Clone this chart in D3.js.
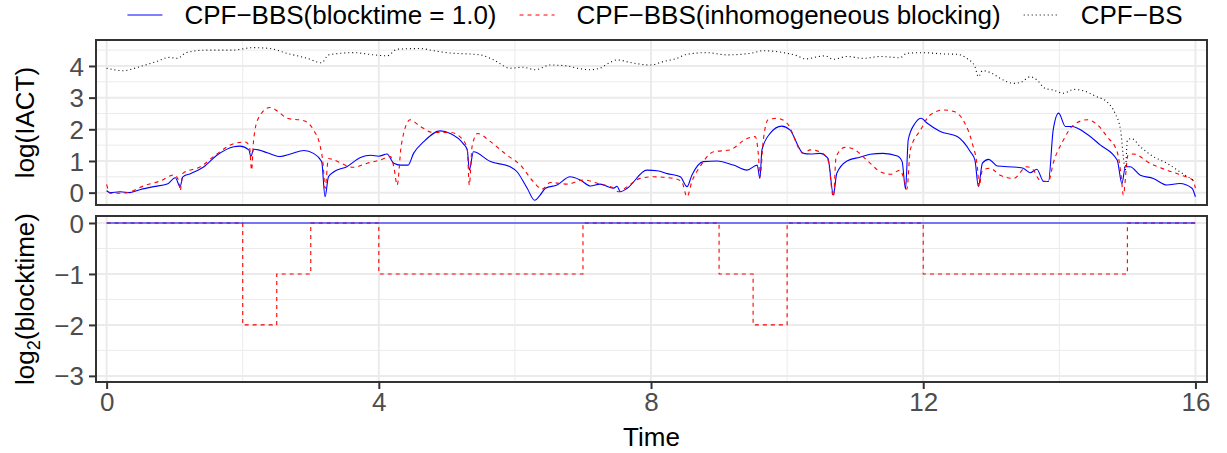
<!DOCTYPE html>
<html>
<head>
<meta charset="utf-8">
<script src="https://cdn.jsdelivr.net/npm/d3@7"></script>
<style>
  body { margin: 0; background: #fff; }
  text { font-family: "Liberation Sans", Arial, Helvetica, sans-serif; }
</style>
</head>
<body>
<div id="chart"></div>
<script>
// ---- data ----
var seriesNames = ["CPF\u2212BBS(blocktime = 1.0)", "CPF\u2212BBS(inhomogeneous blocking)", "CPF\u2212BS"];

// log(IACT) over time, blocktime = 1.0
var iactBlock1 = [[0,0.06],[0.05,0.0],[0.2,0.03],[0.34,0.0],[0.5,0.1],[0.69,0.19],[0.89,0.27],[1.01,0.47],[1.08,0.19],[1.12,0.5],[1.23,0.6],[1.43,0.82],[1.62,1.18],[1.87,1.45],[1.96,1.47],[2.09,1.35],[2.12,1.14],[2.16,1.37],[2.23,1.35],[2.36,1.26],[2.55,1.14],[2.7,1.22],[2.9,1.33],[3.04,1.24],[3.16,0.98],[3.21,-0.13],[3.26,0.5],[3.34,0.66],[3.53,0.82],[3.73,1.11],[3.88,1.18],[4.0,1.15],[4.12,1.22],[4.22,0.93],[4.32,0.87],[4.43,0.87],[4.51,1.24],[4.66,1.61],[4.9,1.95],[5.05,1.87],[5.24,1.55],[5.3,1.35],[5.33,0.71],[5.39,1.29],[5.64,0.98],[5.93,0.82],[6.03,0.66],[6.18,0.14],[6.29,-0.24],[6.37,-0.08],[6.45,0.14],[6.62,0.24],[6.81,0.5],[6.96,0.4],[7.11,0.21],[7.25,0.27],[7.45,0.14],[7.5,0.2],[7.55,0.03],[7.65,0.14],[7.94,0.71],[8.09,0.69],[8.24,0.6],[8.43,0.5],[8.53,0.19],[8.6,0.55],[8.77,0.98],[8.97,1.0],[9.21,0.87],[9.41,0.71],[9.56,0.87],[9.6,0.45],[9.63,1.35],[9.75,1.87],[9.92,2.1],[10.04,1.98],[10.24,1.24],[10.34,1.22],[10.48,1.24],[10.6,1.08],[10.68,-0.07],[10.73,0.61],[10.88,1.0],[11.07,1.12],[11.22,1.21],[11.41,1.24],[11.62,1.16],[11.69,0.98],[11.74,0.11],[11.78,1.67],[11.88,2.19],[11.97,2.35],[12.06,2.19],[12.25,1.93],[12.5,1.77],[12.69,1.3],[12.76,1.03],[12.81,0.19],[12.87,0.93],[12.96,1.05],[13.09,0.84],[13.38,0.8],[13.47,0.77],[13.57,0.63],[13.67,0.74],[13.77,0.35],[13.84,0.35],[13.91,1.98],[13.99,2.51],[14.09,2.09],[14.19,2.09],[14.35,1.93],[14.6,1.51],[14.85,1.03],[14.92,0.29],[14.97,0.82],[15.04,0.82],[15.19,0.55],[15.38,0.45],[15.58,0.24],[15.77,0.29],[15.95,0.14],[16.0,-0.13]];

// log(IACT) over time, inhomogeneous blocking
var iactInhom = [[0,0.26],[0.05,-0.02],[0.2,-0.02],[0.34,0.02],[0.54,0.21],[0.79,0.37],[0.99,0.56],[1.06,0.37],[1.08,0.06],[1.12,0.61],[1.38,0.82],[1.62,1.22],[1.87,1.55],[2.04,1.6],[2.1,1.45],[2.13,0.71],[2.16,1.66],[2.23,2.35],[2.4,2.69],[2.55,2.51],[2.65,2.35],[2.9,2.27],[3.04,1.98],[3.14,1.45],[3.18,0.93],[3.21,0.14],[3.26,1.08],[3.34,1.03],[3.63,0.8],[3.83,0.93],[4.02,1.03],[4.17,1.14],[4.22,0.82],[4.27,0.24],[4.33,1.5],[4.46,2.3],[4.61,2.09],[4.8,1.9],[5.05,1.9],[5.24,1.66],[5.3,1.35],[5.33,0.24],[5.37,1.45],[5.45,1.87],[5.64,1.61],[5.88,1.19],[6.08,0.87],[6.27,0.35],[6.4,0.11],[6.52,0.32],[6.77,0.27],[7.01,0.4],[7.25,0.27],[7.45,0.14],[7.52,0.03],[7.65,0.19],[7.84,0.45],[8.04,0.5],[8.33,0.45],[8.45,0.35],[8.53,-0.13],[8.6,0.35],[8.72,0.82],[8.92,1.29],[9.16,1.35],[9.41,1.71],[9.53,1.77],[9.58,1.14],[9.6,0.5],[9.65,1.66],[9.72,2.3],[9.85,2.35],[10.0,2.19],[10.24,1.24],[10.34,1.35],[10.48,1.29],[10.6,1.03],[10.68,-0.13],[10.72,1.14],[10.85,1.43],[10.98,1.37],[11.17,1.03],[11.37,0.66],[11.52,0.58],[11.66,0.71],[11.72,0.4],[11.76,0.11],[11.81,1.35],[11.96,1.98],[12.1,2.45],[12.3,2.61],[12.45,2.56],[12.6,2.24],[12.72,1.56],[12.8,0.71],[12.82,0.19],[12.87,0.71],[12.98,0.77],[13.13,0.55],[13.33,0.45],[13.52,0.82],[13.62,0.71],[13.71,0.4],[13.84,0.35],[13.91,0.93],[14.06,1.66],[14.21,2.14],[14.41,2.3],[14.56,2.14],[14.7,1.77],[14.85,1.29],[14.91,0.5],[14.94,-0.07],[15.01,1.19],[15.09,1.22],[15.33,0.93],[15.58,0.71],[15.82,0.53],[15.96,0.4],[16.0,0.14]];

// log(IACT) over time, CPF-BS
var iactBS = [[0,3.93],[0.24,3.85],[0.49,3.98],[0.73,4.14],[0.92,4.27],[1.04,4.24],[1.17,4.42],[1.46,4.5],[1.85,4.5],[2.16,4.58],[2.4,4.55],[2.65,4.4],[2.95,4.24],[3.16,4.1],[3.26,4.35],[3.63,4.42],[3.93,4.35],[4.12,4.32],[4.27,4.53],[4.61,4.55],[4.81,4.48],[5.0,4.42],[5.49,4.35],[5.69,4.19],[5.93,3.93],[6.12,3.96],[6.3,3.88],[6.52,4.03],[6.77,4.0],[6.91,3.93],[7.11,3.88],[7.25,3.93],[7.38,4.09],[7.5,4.19],[7.74,4.09],[7.99,4.03],[8.18,4.14],[8.38,4.24],[8.53,4.37],[8.82,4.42],[9.11,4.35],[9.46,4.4],[9.65,4.48],[9.95,4.42],[10.15,4.32],[10.27,4.22],[10.44,4.29],[10.56,4.32],[10.68,4.21],[10.88,4.3],[11.12,4.24],[11.37,4.3],[11.66,4.26],[11.76,4.4],[12.0,4.42],[12.3,4.38],[12.5,4.37],[12.64,4.24],[12.76,3.98],[12.81,3.66],[12.87,3.85],[13.01,3.77],[13.13,3.61],[13.33,3.45],[13.45,3.5],[13.57,3.66],[13.67,3.56],[13.79,3.29],[13.91,3.24],[14.06,3.14],[14.21,3.26],[14.35,3.22],[14.55,3.03],[14.7,2.87],[14.82,2.5],[14.9,1.98],[14.94,1.14],[14.97,0.71],[15.0,1.66],[15.06,1.71],[15.19,1.45],[15.38,1.14],[15.58,0.93],[15.77,0.66],[16.0,0.35]];

// log2(blocktime), step changes
var blockTimes = [0, 2, 2.5, 3, 4, 7, 9, 9.5, 10, 12, 15, 16];
var blockInhom = [0, -2, -1, 0, -1, 0, -1, -2, 0, -1, 0, 0];
var blockConst = [0, 0];
var blockConstTimes = [0, 16];

var xTicks = [0, 4, 8, 12, 16];
var yTicksTop = [0, 1, 2, 3, 4];
var yTicksBot = [0, -1, -2, -3];

// ---- layout ----
var W = 1227, H = 453;
var left = 96, right = 1207;
var top1 = 40, bot1 = 205;
var top2 = 216, bot2 = 382;
var fontSize = 26;

var colors = ["#0000FF", "#FF0000", "#000000"];
var dashes = [null, "4,4", "1,3"];

var svg = d3.select("#chart").append("svg")
    .attr("width", W)
    .attr("height", H);

var x = d3.scaleLinear().domain([-0.156, 16.17]).range([left, right]);
var yTop = d3.scaleLinear().domain([-0.39, 4.82]).range([bot1, top1]);
var yBot = d3.scaleLinear().domain([-3.12, 0.137]).range([bot2, top2]);

function drawPanel(y, yt, ptop, pbot, minorY) {
    var g = svg.append("g");
    // minor grid
    g.selectAll(".minx").data([2, 6, 10, 14]).join("line")
        .attr("x1", d => x(d)).attr("x2", d => x(d))
        .attr("y1", ptop).attr("y2", pbot)
        .attr("stroke", "#EBEBEB").attr("stroke-width", 1);
    g.selectAll(".miny").data(minorY).join("line")
        .attr("class", "miny")
        .attr("x1", left).attr("x2", right)
        .attr("y1", d => y(d)).attr("y2", d => y(d))
        .attr("stroke", "#EBEBEB").attr("stroke-width", 1);
    // major grid
    g.selectAll(".majx").data(xTicks).join("line")
        .attr("class", "majx")
        .attr("x1", d => x(d)).attr("x2", d => x(d))
        .attr("y1", ptop).attr("y2", pbot)
        .attr("stroke", "#EBEBEB").attr("stroke-width", 2);
    g.selectAll(".majy").data(yt).join("line")
        .attr("class", "majy")
        .attr("x1", left).attr("x2", right)
        .attr("y1", d => y(d)).attr("y2", d => y(d))
        .attr("stroke", "#EBEBEB").attr("stroke-width", 2);
    // y axis
    var ax = svg.append("g")
        .attr("transform", `translate(${left},0)`)
        .call(d3.axisLeft(y).tickValues(yt).tickSize(7).tickPadding(5)
            .tickFormat(d => d < 0 ? "\u2212" + Math.abs(d) : d));
    ax.select(".domain").remove();
    ax.selectAll(".tick line").attr("stroke", "#333333").attr("stroke-width", 2);
    ax.selectAll(".tick text").attr("fill", "#4D4D4D")
        .style("font-size", fontSize + "px").attr("dy", "0.35em");
    return g;
}

drawPanel(yTop, yTicksTop, top1, bot1, [0.5, 1.5, 2.5, 3.5, 4.5]);
drawPanel(yBot, yTicksBot, top2, bot2, [-0.5, -1.5, -2.5]);

// clip paths for the panels
var defs = svg.append("defs");
defs.append("clipPath").attr("id", "clipTop").append("rect")
    .attr("x", left).attr("y", top1).attr("width", right - left).attr("height", bot1 - top1);
defs.append("clipPath").attr("id", "clipBot").append("rect")
    .attr("x", left).attr("y", top2).attr("width", right - left).attr("height", bot2 - top2);

// top panel lines
var lineTop = d3.line().x(d => x(d[0])).y(d => yTop(d[1])).curve(d3.curveMonotoneX);
var topG = svg.append("g").attr("clip-path", "url(#clipTop)");
[iactBlock1, iactInhom, iactBS].forEach((s, i) => {
    topG.append("path")
        .datum(s)
        .attr("d", lineTop)
        .attr("fill", "none")
        .attr("stroke", colors[i])
        .attr("stroke-width", 1.1)
        .attr("stroke-dasharray", dashes[i]);
});

// bottom panel step lines
var lineBot = d3.line().x(d => x(d[0])).y(d => yBot(d[1])).curve(d3.curveStepAfter);
var botG = svg.append("g").attr("clip-path", "url(#clipBot)");
botG.append("path")
    .datum(blockTimes.map((t, i) => [t, blockInhom[i]]))
    .attr("d", lineBot)
    .attr("fill", "none")
    .attr("stroke", colors[1])
    .attr("stroke-width", 1.1)
    .attr("stroke-dasharray", dashes[1]);
botG.append("path")
    .datum(blockConstTimes.map((t, i) => [t, blockConst[i]]))
    .attr("d", lineBot)
    .attr("fill", "none")
    .attr("stroke", colors[0])
    .attr("stroke-width", 1.1);

// panel borders
[[top1, bot1], [top2, bot2]].forEach(p => {
    svg.append("rect")
        .attr("x", left).attr("y", p[0])
        .attr("width", right - left).attr("height", p[1] - p[0])
        .attr("fill", "none").attr("stroke", "#333333").attr("stroke-width", 2);
});

// x axis (bottom panel only)
var xAx = svg.append("g")
    .attr("transform", `translate(0,${bot2})`)
    .call(d3.axisBottom(x).tickValues(xTicks).tickSize(7).tickPadding(4));
xAx.select(".domain").remove();
xAx.selectAll(".tick line").attr("stroke", "#333333").attr("stroke-width", 2);
xAx.selectAll(".tick text").attr("fill", "#4D4D4D").style("font-size", fontSize + "px");

// axis titles
svg.append("text")
    .attr("x", (left + right) / 2).attr("y", 446)
    .attr("text-anchor", "middle")
    .style("font-size", fontSize + "px")
    .text("Time");

svg.append("text")
    .attr("transform", `translate(34,${(top1 + bot1) / 2}) rotate(-90)`)
    .attr("text-anchor", "middle")
    .style("font-size", fontSize + "px")
    .text("log(IACT)");

var yl = svg.append("text")
    .attr("transform", `translate(34,${(top2 + bot2) / 2}) rotate(-90)`)
    .attr("text-anchor", "middle")
    .style("font-size", fontSize + "px");
yl.append("tspan").text("log");
yl.append("tspan").text("2").attr("dy", 6).style("font-size", (fontSize * 0.7) + "px");
yl.append("tspan").text("(blocktime)").attr("dy", -6);

// legend
var leg = svg.append("g");
var keyW = 35, keyGap = 22, itemGap = 23;
var items = leg.selectAll("g").data(seriesNames).join("g");
items.append("line")
    .attr("x1", 0).attr("x2", keyW).attr("y1", 0).attr("y2", 0)
    .attr("stroke", (d, i) => colors[i])
    .attr("stroke-width", 1.1)
    .attr("stroke-dasharray", (d, i) => dashes[i]);
items.append("text")
    .attr("x", keyW + keyGap).attr("dy", "0.35em")
    .style("font-size", fontSize + "px")
    .text(d => d);
var pos = 0, offsets = [];
items.each(function() {
    offsets.push(pos);
    pos += keyW + keyGap + d3.select(this).select("text").node().getComputedTextLength() + itemGap;
});
var total = pos - itemGap;
var start = 655 - total / 2;
items.attr("transform", (d, i) => `translate(${start + offsets[i]},15)`);
</script>
</body>
</html>
